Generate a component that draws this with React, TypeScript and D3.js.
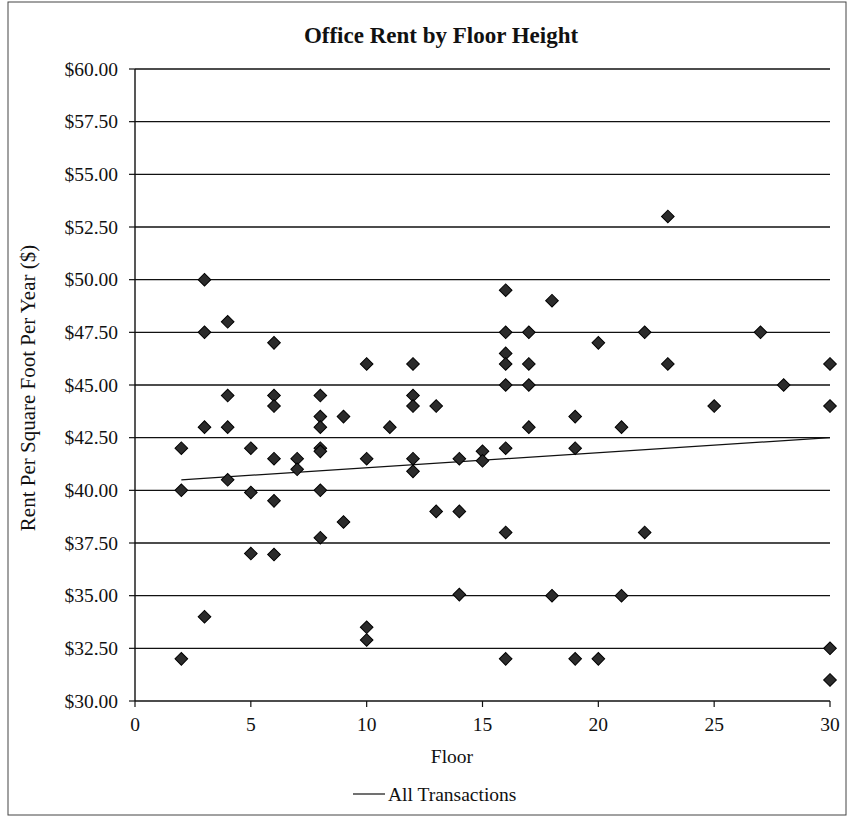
import React from "react";
import * as d3 from "d3";

const floors: number[] = [
  2, 2, 2,
  3, 3, 3, 3,
  4, 4, 4, 4,
  5, 5, 5,
  6, 6, 6, 6, 6, 6,
  7, 7,
  8, 8, 8, 8, 8, 8, 8,
  9, 9,
  10, 10, 10, 10,
  11,
  12, 12, 12, 12, 12,
  13, 13,
  14, 14, 14,
  15, 15,
  16, 16, 16, 16, 16, 16, 16, 16,
  17, 17, 17, 17,
  18, 18,
  19, 19, 19,
  20, 20,
  21, 21,
  22, 22,
  23, 23,
  25, 27, 28,
  30, 30, 30, 30,
];

const rents: number[] = [
  42, 40, 32,
  50, 47.5, 43, 34,
  48, 44.5, 43, 40.5,
  42, 39.9, 37,
  47, 44.5, 44, 41.5, 39.5, 36.95,
  41.5, 41,
  44.5, 43.5, 43, 42, 41.85, 40, 37.75,
  43.5, 38.5,
  46, 41.5, 33.5, 32.9,
  43,
  46, 44.5, 44, 41.5, 40.9,
  44, 39,
  41.5, 39, 35.05,
  41.85, 41.4,
  49.5, 47.5, 46.5, 46, 45, 42, 38, 32,
  47.5, 46, 45, 43,
  49, 35,
  43.5, 42, 32,
  47, 32,
  43, 35,
  47.5, 38,
  53, 46,
  44, 47.5, 45,
  46, 44, 32.5, 31,
];

const trendFloors: number[] = [2, 30];
const trendRents: number[] = [40.5, 42.5];

const xTicks: number[] = [0, 5, 10, 15, 20, 25, 30];
const yTicks: number[] = [30, 32.5, 35, 37.5, 40, 42.5, 45, 47.5, 50, 52.5, 55, 57.5, 60];

const W = 850;
const H = 819;
const M = { left: 135, right: 830, top: 69, bottom: 701 };
const FONT = "'Liberation Serif', 'Times New Roman', serif";

export default function App() {
  const x = d3.scaleLinear().domain([0, 30]).range([M.left, M.right]);
  const y = d3.scaleLinear().domain([30, 60]).range([M.bottom, M.top]);
  const fmt = d3.format("$.2f");
  const diamond = d3.symbol().type(d3.symbolSquare).size(80)() as string;
  const trendLine = d3
    .line<number>()
    .x((_, i) => x(trendFloors[i]))
    .y((d) => y(d))(trendRents) as string;

  return (
    <svg
      width={W}
      height={H}
      style={{ position: "absolute", left: 0, top: 0, background: "#fff" }}
      fontFamily={FONT}
    >
      <rect x={8} y={2} width={838} height={813} fill="#fff" stroke="#444" strokeWidth={1} />
      <text x={441} y={43} textAnchor="middle" fontSize={23} fontWeight="bold" fill="#111">
        Office Rent by Floor Height
      </text>

      {yTicks.map((t) => (
        <g key={"y" + t}>
          <line x1={M.left} x2={M.right} y1={y(t)} y2={y(t)} stroke="#111" strokeWidth={1.4} />
          <line x1={M.left - 6} x2={M.left} y1={y(t)} y2={y(t)} stroke="#111" strokeWidth={1.2} />
          <text x={118} y={y(t)} dy="0.35em" textAnchor="end" fontSize={19.5} fill="#111">
            {fmt(t)}
          </text>
        </g>
      ))}

      <line x1={M.left} x2={M.left} y1={M.top} y2={M.bottom} stroke="#111" strokeWidth={1.4} />
      {xTicks.map((t) => (
        <g key={"x" + t}>
          <line x1={x(t)} x2={x(t)} y1={M.bottom} y2={M.bottom + 6} stroke="#111" strokeWidth={1.2} />
          <text x={x(t)} y={731} textAnchor="middle" fontSize={19.5} fill="#111">
            {t}
          </text>
        </g>
      ))}

      <path d={trendLine} fill="none" stroke="#111" strokeWidth={1.2} />

      {floors.map((f, i) => (
        <path
          key={"p" + i}
          d={diamond}
          transform={`translate(${x(f)},${y(rents[i])}) rotate(45)`}
          fill="#2b2b2b"
          stroke="#000"
          strokeWidth={1}
        />
      ))}

      <text x={452} y={763} textAnchor="middle" fontSize={19.5} fill="#111">
        Floor
      </text>
      <text
        transform={`translate(35,388) rotate(-90)`}
        textAnchor="middle"
        fontSize={21}
        fill="#111"
      >
        Rent Per Square Foot Per Year ($)
      </text>

      <line x1={353} x2={385} y1={794} y2={794} stroke="#111" strokeWidth={1.2} />
      <text x={388} y={801} fontSize={19.5} fill="#111">
        All Transactions
      </text>
    </svg>
  );
}
